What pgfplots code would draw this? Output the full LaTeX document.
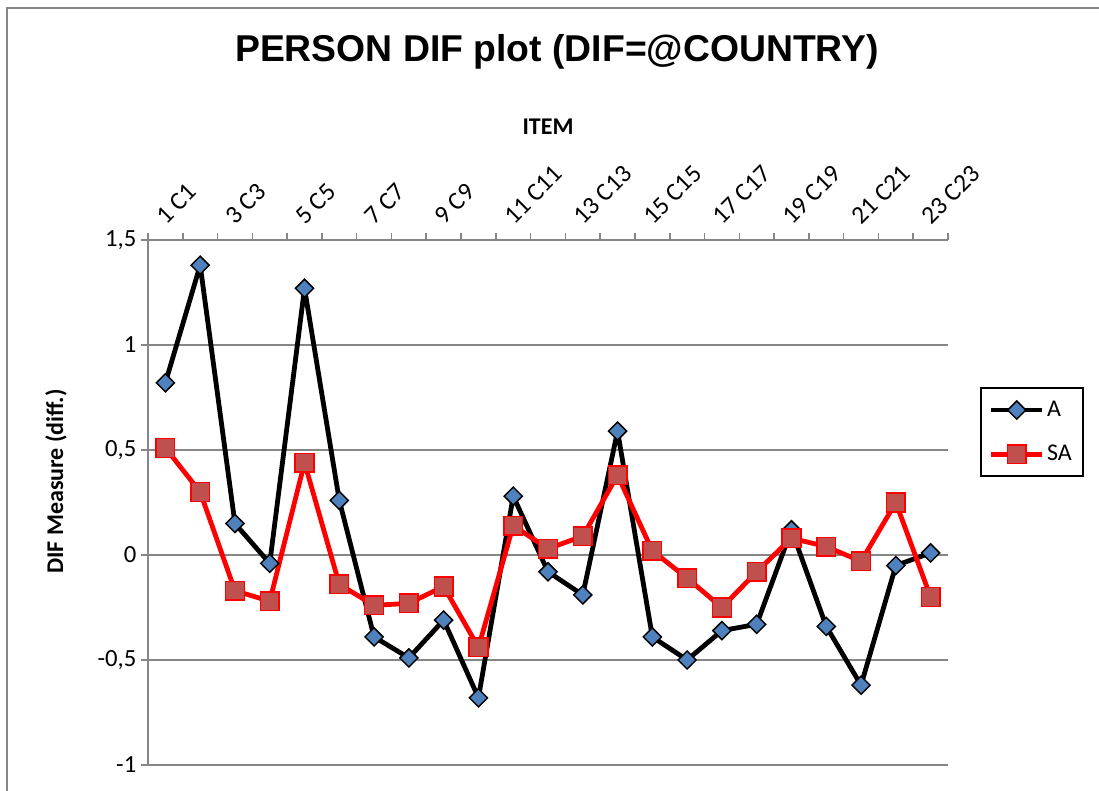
\documentclass[border=0pt]{standalone}
\usepackage{fontspec}
\setmainfont{Carlito}
\newfontfamily\arialfont{Liberation Sans}
\usepackage{pgfplots}
\pgfplotsset{compat=1.18}
\definecolor{gridgray}{RGB}{134,134,134}
\definecolor{diafill}{RGB}{79,129,189}
\definecolor{sqfill}{RGB}{192,80,77}
\begin{document}
\begin{tikzpicture}
\path[use as bounding box] (0pt,0pt) rectangle (824.25pt,-593.25pt);
\draw[gridgray, line width=1.2pt] (5.25pt,-593.25pt) -- (5.25pt,-6pt) -- (824.25pt,-6pt);
\node[font=\arialfont\bfseries\fontsize{28}{32}\selectfont] at (417.75pt,-39pt) {PERSON DIF plot (DIF=@COUNTRY)};
\begin{axis}[
  at={(111pt,-573.75pt)}, anchor=south west,
  scale only axis, width=600pt, height=393.75pt,
  xmin=0.5, xmax=23.5, ymin=-1, ymax=1.5,
  axis x line*=top, axis y line*=left,
  axis line style={gridgray, line width=1.2pt, -},
  xtick={1,3,...,23},
  xticklabels={1 C1,3 C3,5 C5,7 C7,9 C9,11 C11,13 C13,15 C15,17 C17,19 C19,21 C21,23 C23},
  minor xtick={0.5,1.5,...,23.5},
  major x tick style={draw=none},
  minor x tick style={gridgray, line width=1.2pt},
  tick align=outside,
  major tick length=5.25pt, minor tick length=5.25pt,
  ytick={-1,-0.5,...,1.5},
  major y tick style={gridgray, line width=1.2pt},
  ymajorgrids, grid style={gridgray, line width=1.2pt},
  yticklabel style={font=\fontsize{18.5}{21}\selectfont, /pgf/number format/.cd, use comma, assume math mode=true},
  xticklabel style={font=\fontsize{19}{22}\selectfont, rotate=45, anchor=south west, xshift=1pt, yshift=0pt},
  xlabel={ITEM},
  xlabel style={font=\bfseries\fontsize{18}{21}\selectfont, at={(axis description cs:0.5,1.215)}, anchor=center},
  ylabel={DIF Measure (diff.)},
  ylabel style={font=\bfseries\fontsize{18}{21}\selectfont, at={(axis description cs:-0.115,0.54)}, anchor=center},
  clip=false,
  legend style={at={(rel axis cs:1.04,0.72)}, anchor=north west, draw=black, line width=1.5pt,
    font=\fontsize{18}{21}\selectfont, row sep=16pt, inner xsep=6pt, inner ysep=8pt},
  legend cell align=left,
  legend image code/.code={\draw[mark repeat=2,mark phase=2,#1] plot coordinates {(0pt,0pt) (19pt,0pt) (38pt,0pt)};},
]
\addplot[black, line width=3.6pt, line join=round, mark=square*, mark size=4.8pt,
  mark options={rotate=45, fill=diafill, draw=black, line width=1.1pt, solid, line join=miter}]
coordinates {
(1,0.82) (2,1.38) (3,0.15) (4,-0.04) (5,1.27) (6,0.26) (7,-0.39) (8,-0.49)
(9,-0.31) (10,-0.68) (11,0.28) (12,-0.08) (13,-0.19) (14,0.59) (15,-0.39)
(16,-0.50) (17,-0.36) (18,-0.33) (19,0.12) (20,-0.34) (21,-0.62) (22,-0.05) (23,0.01)
};
\addlegendentry{A}
\addplot[red, line width=3.6pt, line join=round, mark=square*, mark size=7pt,
  mark options={fill=sqfill, draw=red, line width=1.1pt, solid, line join=miter}]
coordinates {
(1,0.51) (2,0.30) (3,-0.17) (4,-0.22) (5,0.44) (6,-0.14) (7,-0.24) (8,-0.23)
(9,-0.15) (10,-0.44) (11,0.14) (12,0.03) (13,0.09) (14,0.38) (15,0.02)
(16,-0.11) (17,-0.25) (18,-0.08) (19,0.08) (20,0.04) (21,-0.03) (22,0.25) (23,-0.20)
};
\addlegendentry{SA}
\end{axis}
\end{tikzpicture}
\end{document}
